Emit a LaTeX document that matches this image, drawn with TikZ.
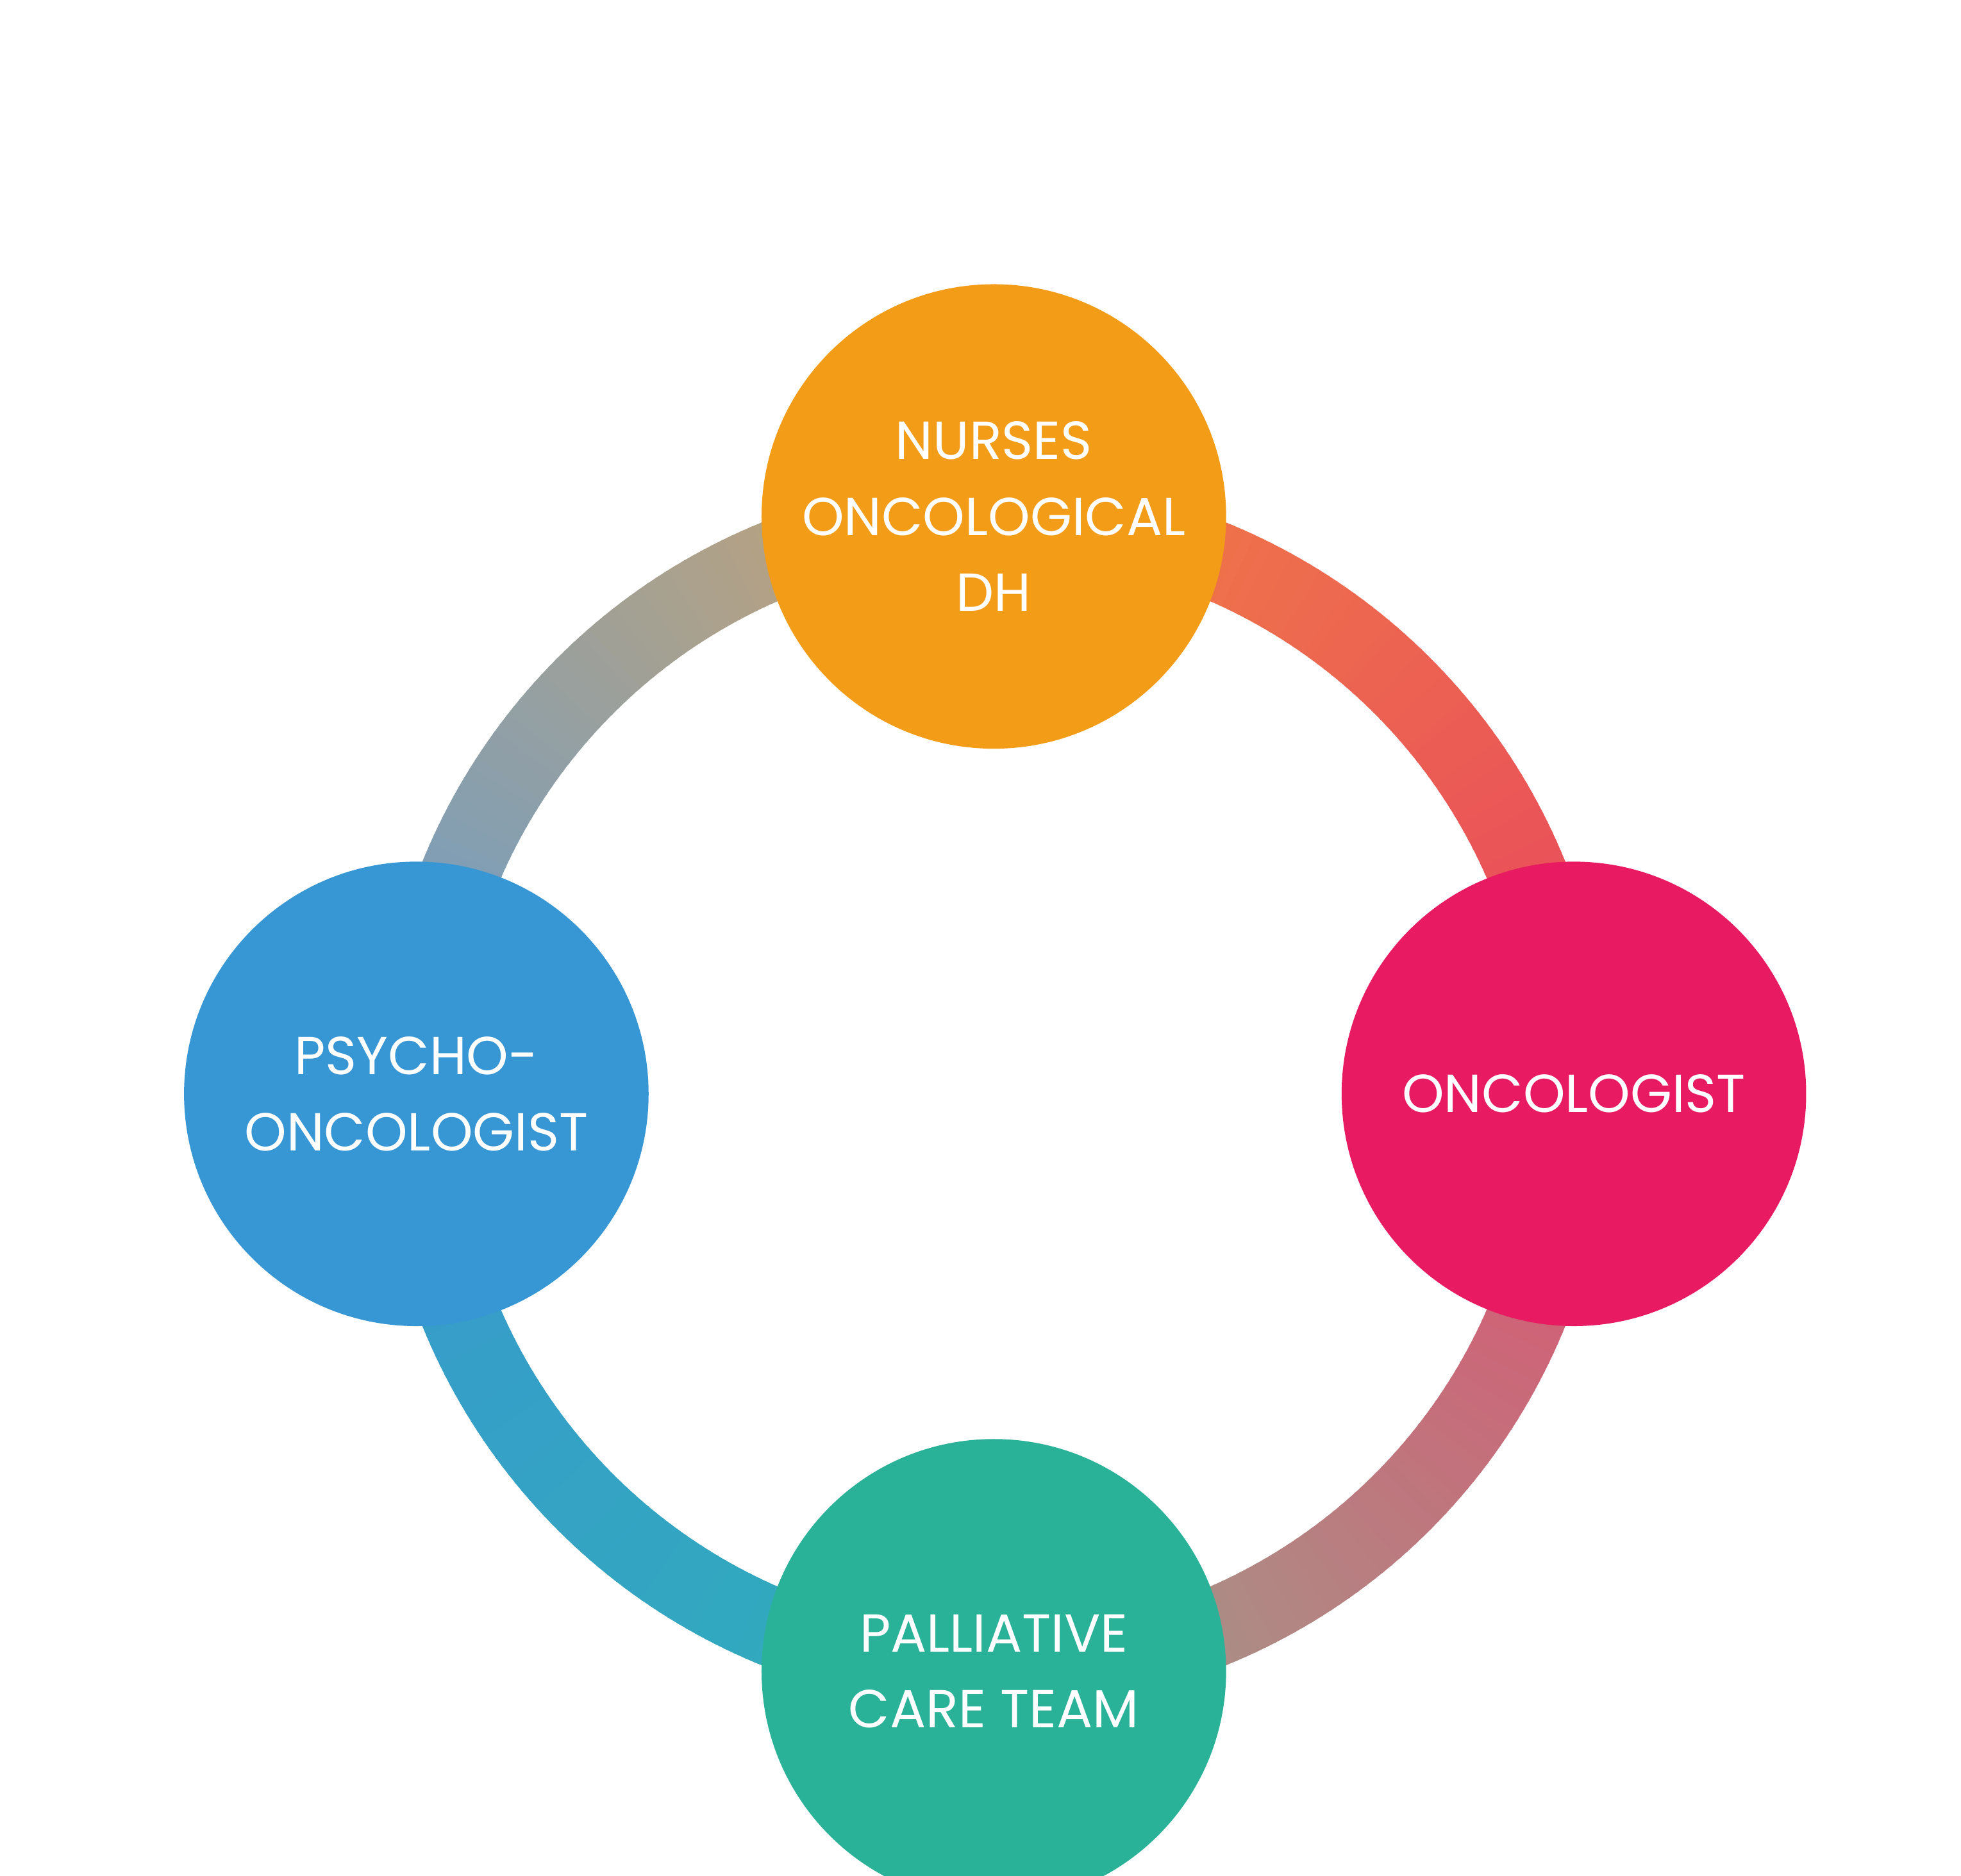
\documentclass[tikz,border=0pt]{standalone}
\usepackage{fontspec}
\setmainfont{Poppins}
\definecolor{cTop}{HTML}{F39C18}
\definecolor{cRight}{HTML}{E81B62}
\definecolor{cLeft}{HTML}{3796D4}
\definecolor{cBottom}{HTML}{2AB298}
\definecolor{rTR}{HTML}{F07F45}
\definecolor{rRT}{HTML}{E8445F}
\definecolor{rTL}{HTML}{CCA36C}
\definecolor{rLT}{HTML}{6A9DCC}
\definecolor{rLB}{HTML}{3898CE}
\definecolor{rBL}{HTML}{30AEBA}
\definecolor{rRB}{HTML}{DE5070}
\definecolor{rBR}{HTML}{9CA08C}
\tikzset{
  member/.style={circle,minimum size=3.66cm,inner sep=0pt,text=white,
    align=center,font=\fontsize{12}{17}\selectfont},
  ring/.style={line width=0.62cm}
}
\newcommand{\ringpart}[4]{% start angle, color at start, color at end, ...
  \foreach \a in {0,...,89}{
    \pgfmathtruncatemacro{\p}{100-\a*100/89}
    \draw[ring,draw={#2!\p!#3}] (7.83,6.16) ++(#1+\a:4.55) arc[start angle=#1+\a,delta angle=1.3,radius=4.55];
  }}
\begin{document}
\begin{tikzpicture}
\useasboundingbox (0,0) rectangle (15.45,14.78);
% ring
\ringpart{0}{rRT}{rTR}{}
\ringpart{90}{rTL}{rLT}{}
\ringpart{180}{rLB}{rBL}{}
\ringpart{270}{rBR}{rRB}{}
% members
\node[member,fill=cTop] (nurses) at (7.83,10.71) {NURSES\\ONCOLOGICAL\\DH};
\node[member,fill=cRight] (onco) at (12.40,6.16) {ONCOLOGIST};
\node[member,fill=cLeft] (psycho) at (3.28,6.16) {PSYCHO-\\ONCOLOGIST};
\node[member,fill=cBottom] (palli) at (7.83,1.61) {PALLIATIVE\\CARE TEAM};
\end{tikzpicture}
\end{document}
